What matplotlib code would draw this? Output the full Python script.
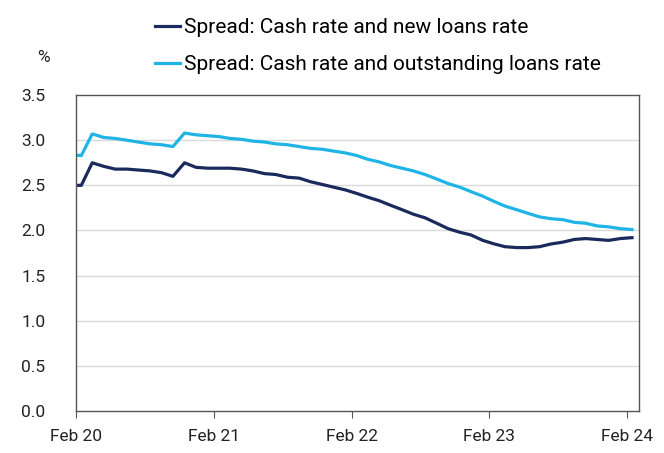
import matplotlib
matplotlib.use("Agg")
import matplotlib.pyplot as plt
import pandas as pd

# monthly observations Jan 2020 - Feb 2024, plotted mid-month
months = pd.date_range("2020-01-01", "2024-02-01", freq="MS") + pd.Timedelta(days=14)

new_loans = [2.50, 2.50, 2.75, 2.71, 2.68, 2.68, 2.67, 2.66, 2.64, 2.60,
             2.75, 2.70, 2.69, 2.69, 2.69, 2.68, 2.66, 2.63, 2.62, 2.59,
             2.58, 2.54, 2.51, 2.48, 2.45, 2.41, 2.37, 2.33, 2.28, 2.23,
             2.18, 2.14, 2.08, 2.02, 1.98, 1.95, 1.89, 1.85, 1.82, 1.81,
             1.81, 1.82, 1.85, 1.87, 1.90, 1.91, 1.90, 1.89, 1.91, 1.92]
outstanding = [2.84, 2.83, 3.07, 3.03, 3.02, 3.00, 2.98, 2.96, 2.95, 2.93,
               3.08, 3.06, 3.05, 3.04, 3.02, 3.01, 2.99, 2.98, 2.96, 2.95,
               2.93, 2.91, 2.90, 2.88, 2.86, 2.83, 2.79, 2.76, 2.72, 2.69,
               2.66, 2.62, 2.57, 2.52, 2.48, 2.43, 2.38, 2.32, 2.27, 2.23,
               2.19, 2.15, 2.13, 2.12, 2.09, 2.08, 2.05, 2.04, 2.02, 2.01]

tick_dates = pd.to_datetime(["2020-02-01", "2021-02-01", "2022-02-01", "2023-02-01", "2024-02-01"])
tick_labels = ["Feb 20", "Feb 21", "Feb 22", "Feb 23", "Feb 24"]
y_ticks = [0.0, 0.5, 1.0, 1.5, 2.0, 2.5, 3.0, 3.5]

plt.rcParams["font.family"] = ["Roboto", "DejaVu Sans"]

fig = plt.figure(figsize=(6.64, 4.53), dpi=100)
ax = fig.add_axes([0.1145, 0.093, 0.8475, 0.697])

l1, = ax.plot(months, new_loans, color="#1b2a5c", lw=2.3, solid_joinstyle="round")
l2, = ax.plot(months, outstanding, color="#1eb4e6", lw=2.3, solid_joinstyle="round")

ax.set_xlim(pd.Timestamp("2020-02-01"), pd.Timestamp("2024-03-04"))
ax.set_ylim(0, 3.5)
ax.set_yticks(y_ticks)
ax.set_yticklabels(["%.1f" % v for v in y_ticks], fontsize=12.5, color="#222222")
ax.set_xticks(tick_dates)
ax.set_xticklabels(tick_labels, fontsize=12.5, color="#222222")
ax.tick_params(axis="y", length=0, pad=22)
ax.tick_params(axis="x", length=5, direction="out", color="#555555", pad=8)

for v in y_ticks[1:-1]:
    ax.axhline(v, color="#d9d9d9", lw=1, zorder=0)
for s in ax.spines.values():
    s.set_color("#555555")
    s.set_linewidth(1)

fig.text(0.065, 0.872, "%", fontsize=12.5, color="#222222", ha="center", va="center")

fig.legend([l1, l2],
           ["Spread: Cash rate and new loans rate",
            "Spread: Cash rate and outstanding loans rate"],
           loc="upper left", bbox_to_anchor=(0.221, 0.978), frameon=False,
           fontsize=15, handlelength=1.2, handletextpad=0.2,
           labelspacing=0.85, borderaxespad=0)

fig.savefig("out.png", dpi=100)
